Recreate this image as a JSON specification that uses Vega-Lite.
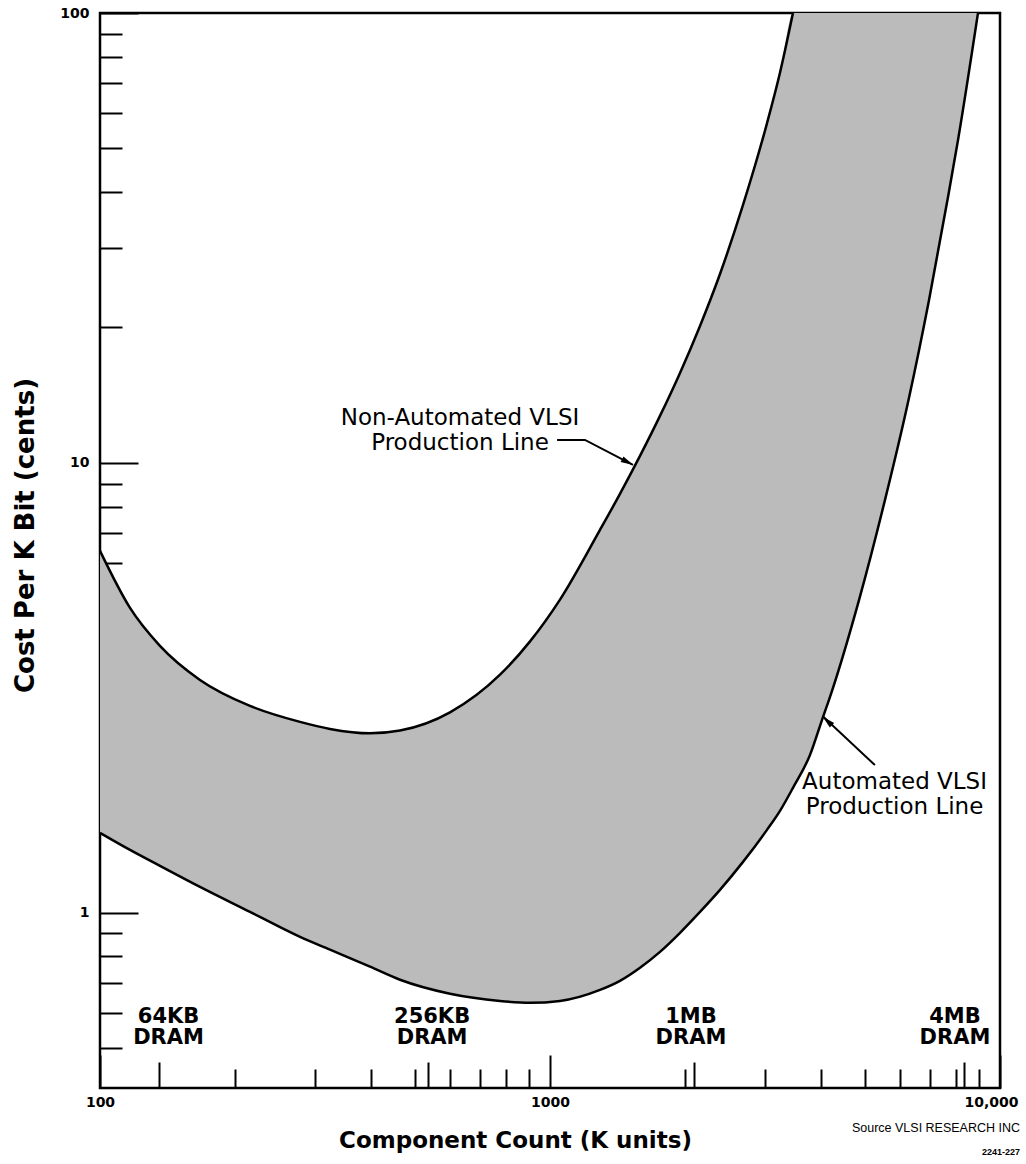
{
  "$schema": "https://vega.github.io/schema/vega-lite/v6.json",
  "width": 900,
  "height": 1075,
  "autosize": "none",
  "padding": {"left": 100, "top": 13, "right": 26, "bottom": 76},
  "background": "white",
  "config": {
    "view": {"stroke": "black", "strokeWidth": 2.5},
    "axis": {"domain": false, "grid": false, "tickColor": "black", "tickWidth": 2, "labelColor": "black", "titleColor": "black", "labelFont": "DejaVu Sans", "labelFontWeight": "bold", "titleFont": "DejaVu Sans"}
  },
  "datasets": {
    "curves": [
      {"x": 100, "auto": 1.506, "nonauto": 6.375},
      {"x": 116.6, "auto": 1.380, "nonauto": 4.762},
      {"x": 135.9, "auto": 1.272, "nonauto": 3.922},
      {"x": 166.8, "auto": 1.142, "nonauto": 3.294},
      {"x": 215.4, "auto": 1.005, "nonauto": 2.884},
      {"x": 278.3, "auto": 0.884, "nonauto": 2.657},
      {"x": 324.4, "auto": 0.828, "nonauto": 2.563},
      {"x": 398.1, "auto": 0.759, "nonauto": 2.506},
      {"x": 464.2, "auto": 0.710, "nonauto": 2.542},
      {"x": 599.5, "auto": 0.661, "nonauto": 2.790},
      {"x": 774.3, "auto": 0.637, "nonauto": 3.383},
      {"x": 902.9, "auto": 0.631, "nonauto": 4.012},
      {"x": 1052.5, "auto": 0.637, "nonauto": 4.969},
      {"x": 1291.5, "auto": 0.674, "nonauto": 7.098},
      {"x": 1430.5, "auto": 0.706, "nonauto": 8.534},
      {"x": 1584.9, "auto": 0.755, "nonauto": 10.365},
      {"x": 1755.5, "auto": 0.819, "nonauto": 12.72},
      {"x": 1945, "auto": 0.903, "nonauto": 15.85},
      {"x": 2154.4, "auto": 1.005, "nonauto": 20.16},
      {"x": 2386.5, "auto": 1.125, "nonauto": 26.30},
      {"x": 2685, "auto": 1.298, "nonauto": 37.44},
      {"x": 3035, "auto": 1.529, "nonauto": 56.86},
      {"x": 3244, "auto": 1.685, "nonauto": 73.67},
      {"x": 3467, "auto": 1.896, "nonauto": 100},
      {"x": 3783, "auto": 2.244, "nonauto": 100},
      {"x": 4044, "auto": 2.727, "nonauto": 100},
      {"x": 4169, "auto": 2.974, "nonauto": 100},
      {"x": 4862, "auto": 4.961, "nonauto": 100},
      {"x": 5552, "auto": 8.277, "nonauto": 100},
      {"x": 6262, "auto": 13.80, "nonauto": 100},
      {"x": 6955, "auto": 23.02, "nonauto": 100},
      {"x": 7643, "auto": 38.4, "nonauto": 100},
      {"x": 8067, "auto": 52.2, "nonauto": 100},
      {"x": 8935, "auto": 100, "nonauto": 100}
    ],
    "dram": [
      {"x": 142, "y": 0.587, "text": "64KB\nDRAM"},
      {"x": 547, "y": 0.587, "text": "256KB\nDRAM"},
      {"x": 2057, "y": 0.587, "text": "1MB\nDRAM"},
      {"x": 7943, "y": 0.587, "text": "4MB\nDRAM"}
    ],
    "notes": [
      {"x": 631, "y": 12.6, "text": "Non-Automated VLSI\nProduction Line"},
      {"x": 5830, "y": 1.954, "text": "Automated VLSI\nProduction Line"}
    ],
    "arrows": [
      {"id": "na", "order": 1, "x": 1037, "y": 11.25},
      {"id": "na", "order": 2, "x": 1196, "y": 11.25},
      {"id": "na", "order": 3, "x": 1529, "y": 9.9},
      {"id": "a", "order": 1, "x": 5272, "y": 2.13},
      {"id": "a", "order": 2, "x": 4043, "y": 2.73}
    ],
    "heads": [
      {"id": "na", "x": 1488, "y": 10.04},
      {"id": "a", "x": 4134, "y": 2.67}
    ],
    "source": [
      {"x": 11080, "y": 0.333, "text": "Source  VLSI RESEARCH INC", "kind": "src"},
      {"x": 11080, "y": 0.294, "text": "2241-227", "kind": "code"}
    ]
  },
  "resolve": {"axis": {"x": "independent", "y": "independent"}},
  "layer": [
    {
      "data": {"name": "curves"},
      "mark": {"type": "area", "color": "#bbbbbb", "interpolate": "monotone"},
      "encoding": {
        "x": {"field": "x", "type": "quantitative",
          "scale": {"type": "log", "domain": [100, 10000], "nice": false},
          "axis": {"orient": "bottom", "values": [100, 1000, 10000], "tickSize": -33, "labelPadding": 40, "labelFlush": false, "labelFontSize": 14,
            "labelOffset": {"condition": {"test": "datum.value >= 10000", "value": -9}, "value": 0},
            "labelExpr": "datum.value >= 10000 ? '10,000' : format(datum.value, 'd')",
            "title": "Component Count (K units)", "titleFontSize": 23, "titleFontWeight": "bold", "titleX": 415, "titleY": 52, "titleBaseline": "middle", "titleAlign": "center"}},
        "y": {"field": "auto", "type": "quantitative",
          "scale": {"type": "log", "domain": [0.408, 100], "nice": false},
          "axis": {"orient": "left", "values": [1, 10, 100], "tickSize": -38, "labelPadding": 49, "labelFontSize": 14,
            "title": "Cost Per K Bit (cents)", "titleFontSize": 26, "titleFontWeight": "bold", "titleX": -75, "titleY": 522, "titleAngle": -90, "titleBaseline": "middle", "titleAlign": "center"}},
        "y2": {"field": "nonauto"}
      }
    },
    {
      "data": {"name": "curves"},
      "transform": [{"filter": "datum.x <= 3467"}],
      "mark": {"type": "line", "color": "black", "strokeWidth": 2.5, "interpolate": "monotone"},
      "encoding": {
        "x": {"field": "x", "type": "quantitative",
          "axis": {"orient": "bottom", "values": [200, 300, 400, 500, 600, 700, 800, 900, 2000, 3000, 4000, 5000, 6000, 7000, 8000, 9000], "tickSize": -19, "labels": false, "title": null}},
        "y": {"field": "nonauto", "type": "quantitative",
          "axis": {"orient": "left", "values": [0.5, 0.6, 0.7, 0.8, 0.9, 2, 3, 4, 5, 6, 7, 8, 9, 20, 30, 40, 50, 60, 70, 80, 90], "tickSize": -22, "labels": false, "title": null}}
      }
    },
    {
      "data": {"name": "curves"},
      "mark": {"type": "line", "color": "black", "strokeWidth": 2.5, "interpolate": "monotone"},
      "encoding": {
        "x": {"field": "x", "type": "quantitative",
          "axis": {"orient": "bottom", "values": [135, 535, 2090, 8300], "tickSize": -26, "labels": false, "title": null}},
        "y": {"field": "auto", "type": "quantitative", "axis": null}
      }
    },
    {
      "data": {"name": "dram"},
      "mark": {"type": "text", "font": "DejaVu Sans", "fontSize": 21, "fontWeight": "bold", "align": "center", "baseline": "middle", "lineBreak": "\n", "lineHeight": 21, "color": "black"},
      "encoding": {
        "x": {"field": "x", "type": "quantitative", "axis": null},
        "y": {"field": "y", "type": "quantitative", "axis": null},
        "text": {"field": "text"}
      }
    },
    {
      "data": {"name": "notes"},
      "mark": {"type": "text", "font": "DejaVu Sans", "fontSize": 23, "align": "center", "baseline": "middle", "lineBreak": "\n", "lineHeight": 25, "color": "black"},
      "encoding": {
        "x": {"field": "x", "type": "quantitative", "axis": null},
        "y": {"field": "y", "type": "quantitative", "axis": null},
        "text": {"field": "text"}
      }
    },
    {
      "data": {"name": "arrows"},
      "mark": {"type": "line", "color": "black", "strokeWidth": 2},
      "encoding": {
        "x": {"field": "x", "type": "quantitative", "axis": null},
        "y": {"field": "y", "type": "quantitative", "axis": null},
        "detail": {"field": "id"},
        "order": {"field": "order"}
      }
    },
    {
      "data": {"name": "heads"},
      "transform": [{"filter": "datum.id == 'na'"}],
      "mark": {"type": "point", "shape": "M-1,-0.5L1,0L-1,0.5Z", "filled": true, "color": "black", "opacity": 1, "size": 160, "angle": 27.5},
      "encoding": {
        "x": {"field": "x", "type": "quantitative", "axis": null},
        "y": {"field": "y", "type": "quantitative", "axis": null}
      }
    },
    {
      "data": {"name": "heads"},
      "transform": [{"filter": "datum.id == 'a'"}],
      "mark": {"type": "point", "shape": "M-1,-0.5L1,0L-1,0.5Z", "filled": true, "color": "black", "opacity": 1, "size": 160, "angle": 222.7},
      "encoding": {
        "x": {"field": "x", "type": "quantitative", "axis": null},
        "y": {"field": "y", "type": "quantitative", "axis": null}
      }
    },
    {
      "data": {"name": "source"},
      "transform": [{"filter": "datum.kind == 'src'"}],
      "mark": {"type": "text", "font": "Liberation Sans", "fontSize": 12.5, "align": "right", "baseline": "middle", "color": "black"},
      "encoding": {
        "x": {"field": "x", "type": "quantitative", "axis": null},
        "y": {"field": "y", "type": "quantitative", "axis": null},
        "text": {"field": "text"}
      }
    },
    {
      "data": {"name": "source"},
      "transform": [{"filter": "datum.kind == 'code'"}],
      "mark": {"type": "text", "font": "Liberation Sans", "fontSize": 9, "fontWeight": "bold", "align": "right", "baseline": "middle", "color": "black"},
      "encoding": {
        "x": {"field": "x", "type": "quantitative", "axis": null},
        "y": {"field": "y", "type": "quantitative", "axis": null},
        "text": {"field": "text"}
      }
    }
  ]
}
